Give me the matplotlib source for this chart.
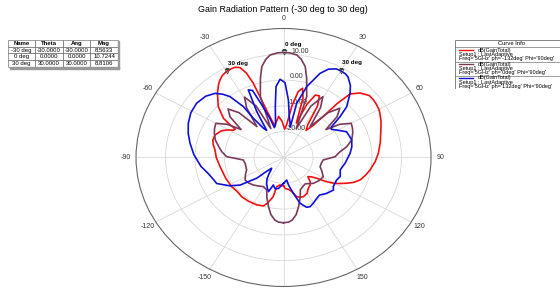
#!/usr/bin/env python3
import numpy as np
import matplotlib
matplotlib.use('Agg')
import matplotlib.pyplot as plt
from matplotlib.ticker import MultipleLocator
from matplotlib.patches import Rectangle

plt.rcParams['font.family'] = ['Liberation Sans', 'DejaVu Sans']

# Gain curves, theta in degrees (0 at top, clockwise), gain in dB
# ph = -132 deg (beam at -30)
red_theta = [-180, -173.6, -168.5, -167, -163, -160, -153.7, -145, -137, -130, -122.8, -112,
             -103, -99.4, -90, -82.9, -78, -74.2, -69.4, -64, -61, -58, -56, -55, -53.3,
             -48.3, -42, -38, -35.6, -33, -30, -27, -25, -22.9, -21, -19.6, -18.7, -17,
             -14, -10, -6, -2, 2, 5, 8, 11, 13.5, 16, 18, 21, 24, 27, 30, 33, 36, 39,
             40.5, 41, 42.5, 46, 50.4, 53.8, 57, 60.2, 62.3, 67, 72, 80, 87, 93, 99.4, 104,
             108.5, 112, 115, 118, 120.6, 123, 125.6, 128.5, 132, 136, 140, 145, 150, 156,
             160, 163.7, 168, 172, 177.6, 180]
red_db = [-19, -19.3, -18.5, -14.4, -11.5, -10, -9.5, -9.3, -9.2, -9.5, -9.1, -8.8,
          -8.5, -8.2, -7.2, -6.6, -5.6, -5.1, -5.2, -6.5, -8, -10, -10.3, -7.9, -4.6,
          -0.4, 3.5, 5.8, 7, 8, 8.56, 8.7, 8.6, 7.8, 5, 0.5, -5.1, -12,
          -17, -16, -14, -16, -19, -17, -10, -4, -2.4, -6, -16, -8, -3.5, -3.2, -7, -15, -17, -14,
          -7.4, -2.3, 3.4, 6, 7.7, 7.8, 7.6, 7.3, 6.9, 5.9, 4.7, 3.3, 2.2, 1.1, -0.3, -1.4,
          -2.6, -4.3, -6.4, -8.5, -10.4, -13, -16.2, -18, -18.9, -17, -16, -15.4, -14, -13.4,
          -13.6, -14.2, -16.5, -17.5, -18, -19]

# ph = 0 deg (broadside)
purple_theta = [-180, -176, -173, -169, -165, -160, -155.6, -149, -142, -136, -130, -124,
                -117, -111, -100, -94, -89, -84, -79, -73.6, -68, -64, -60, -56, -53, -49,
                -45, -41, -37, -33, -29.5, -25, -21, -18.4, -14.3, -11.8, -9, -6.5, -3, 0,
                3, 6.5, 9, 11.8, 14.3, 18.4, 21, 25, 29.5, 33, 37, 41, 45, 49, 53, 56, 60,
                64, 68, 73.6, 79, 84, 89, 94, 100, 106, 112, 119, 127, 135, 144, 150,
                155.6, 160, 165, 169, 173, 176, 180]
purple_db = [-4.7, -4.9, -5.6, -7.5, -10.3, -13.5, -16.2, -16.8, -16, -15.2, -14.6, -14.3,
             -15.5, -16.6, -16.8, -16.3, -10.7, -9, -7.6, -5.9, -4.7, -4, -3.5, -7, -12, -6,
             -3.4, -7, -15, -7, -3.1, -8, -18, -5.1, 1.7, 6, 8.5, 10, 10.6, 10.72,
             10.6, 10, 8.5, 6, 1.7, -5.1, -18, -8, -2.9, -7, -15, -7, -3, -6, -12, -7, -3.5,
             -4, -4.7, -5.9, -8.2, -11, -12.5, -16.5, -17, -17.1, -16, -14.6, -15, -15.8, -17.4, -17,
             -16.2, -13.5, -10.3, -7.5, -5.6, -4.9, -4.7]

# ph = 132 deg (beam at +30)
blue_theta = [-180, -176, -172, -167, -162, -159, -155, -150, -146, -142, -139, -136, -133,
              -131.5, -126, -121, -114, -110, -104, -97, -88, -80, -74, -67.7, -61, -54.5,
              -48, -43, -40, -37.6, -34.6, -33.9, -31, -28.5, -27, -24.5, -22, -20, -17,
              -15, -12, -8, -5.3, -2.2, 1, 4.2, 7, 9.5, 11, 12, 16, 20.8, 24, 27.5, 30, 33,
              35, 39, 42.2, 47.4, 50.4, 53.8, 56, 59.4, 65, 73.6, 80, 86, 96, 104, 111, 116,
              123.8, 126.7, 133.5, 140, 145, 150.4, 154.7, 158, 162.5, 166.5, 171, 173, 177, 180]
blue_db = [-20, -19, -17.9, -17.5, -18.8, -15.8, -17, -18.5, -20, -22, -23.5, -24.2, -22,
           -17.9, -11.8, -8.7, -5.2, -4.8, -3.8, -1.8, 0.4, 2.2, 3.6, 4.9, 5.9, 6.2,
           5.5, 4, 2, -0.2, -6, -11.7, -16.8, -18, -10, -1.2, -2, -8, -14,
           -18, -17, -10, -2.4, 0.35, -1, -7.6, -14, -16.5, -18, -8.5, -1.4, 4.9, 7.5, 8.7, 8.81, 8.6,
           8.1, 6, 3.6, -0.9, -5.1, -9.8, -10.5, -9.1, -6.4, -5.9, -6.5, -7.4, -9, -10.2, -9.4, -10,
           -9.7, -8.9, -9.8, -11, -10.5, -9.6, -8.9, -9.2, -11.4, -15.7, -19.2, -21.2, -20.5, -20]

# Marker table
marker_names = ['-30 deg', '0 deg', '30 deg']
marker_theta = [-30.0, 0.0, 30.0]
marker_mag = [8.5633, 10.7244, 8.8106]

curve_labels = ["Freq='5GHz' ph='-132deg' Phi='90deg'",
                "Freq='5GHz' ph='0deg' Phi='90deg'",
                "Freq='5GHz' ph='132deg' Phi='90deg'"]
curve_colors = ['#f01010', '#7a3a5a', '#1010d8']

fig = plt.figure(figsize=(5.6, 2.91), dpi=100)
fig.text(0.506, 0.966, 'Gain Radiation Pattern (-30 deg to 30 deg)', ha='center', va='center',
         fontsize=6.4)

#######################
# Polar plot, stretched to the same ellipse as the original
ax = fig.add_axes([0.2429, 0.0155, 0.5268, 0.8866], projection='polar')
ax.set_aspect('auto')
ax.set_theta_zero_location('N')
ax.set_theta_direction(-1)
ax.set_ylim(-30, 20)

for th, db, c in zip([red_theta, purple_theta, blue_theta], [red_db, purple_db, blue_db], curve_colors):
    ax.plot(np.deg2rad(th), db, color=c, lw=1.2, solid_joinstyle='round')

angles = list(range(0, 360, 30))
labels = [str(a if a < 180 else a - 360) for a in angles]
ax.set_thetagrids(angles, labels=labels, fontsize=5, color='#333333')
ax.set_rgrids([-20, -10, 0, 10], labels=['-20.00', '-10.00', '0.00', '10.00'], angle=4,
              fontsize=5, color='#333333')
ax.xaxis.set_minor_locator(MultipleLocator(np.deg2rad(5)))
ax.tick_params(axis='x', which='major', direction='in', length=4, width=0.6, color='#555555', pad=0)
ax.tick_params(axis='x', which='minor', direction='in', length=2.5, width=0.5, color='#555555')
ax.grid(True, color='#d8d8d8', lw=0.6)
ax.spines['polar'].set_color('#666666')
ax.spines['polar'].set_linewidth(0.8)

# Markers
for name, th, mag in zip(marker_names, marker_theta, marker_mag):
    ax.plot(np.deg2rad(th), mag, marker='v', ms=3.5, mfc='none', mec='#444444', mew=0.6)
    ax.annotate(name.lstrip('-'), (np.deg2rad(th), mag), xytext=(1, 4), textcoords='offset points',
                fontsize=4.5, fontweight='bold', ha='left', va='bottom')

#######################
# Marker table at top left
tax = fig.add_axes([0.0143, 0.77, 0.196, 0.093])
tax.axis('off')
rows = [[n, '%.4f' % t, '%.4f' % t, '%.4f' % m] for n, t, m in zip(marker_names, marker_theta, marker_mag)]
tbl = tax.table(cellText=rows, colLabels=['Name', 'Theta', 'Ang', 'Mag'], bbox=[0, 0, 1, 1],
                cellLoc='center')
tbl.auto_set_font_size(False)
tbl.set_fontsize(4.3)
for (r, c), cell in tbl.get_celld().items():
    cell.set_linewidth(0.4)
    cell.set_edgecolor('#555555')
    if r == 0:
        cell.set_text_props(fontweight='bold')
# little drop shadow like the original
tax.add_patch(Rectangle((1.0, -0.06), 0.015, 1.0, color='#999999', transform=tax.transAxes, clip_on=False))
tax.add_patch(Rectangle((0.02, -0.06), 0.995, 0.06, color='#999999', transform=tax.transAxes, clip_on=False))

#######################
# Curve info box at top right (runs off the edge like the original)
lax = fig.add_axes([0.8125, 0.695, 0.25, 0.168])
lax.set_xlim(0, 1)
lax.set_ylim(0, 1)
lax.axis('off')
lax.add_patch(Rectangle((0, 0), 1, 1, fill=False, lw=0.5, ec='#555555'))
lax.text(0.4, 0.93, 'Curve Info', fontsize=4.2, ha='center', va='center')
lax.plot([0, 1], [0.86, 0.86], color='#555555', lw=0.4)
for i, (lab, c) in enumerate(zip(curve_labels, curve_colors)):
    y0 = 0.79 - i * 0.285
    lax.plot([0.03, 0.13], [y0, y0], color=c, lw=1)
    lax.text(0.16, y0, 'dB(GainTotal)', fontsize=4, va='center')
    lax.text(0.03, y0 - 0.09, 'Setup1 : LastAdaptive', fontsize=4, va='center')
    lax.text(0.03, y0 - 0.18, lab, fontsize=4, va='center')
    if i < 2:
        lax.plot([0, 1], [y0 - 0.235, y0 - 0.235], color='#555555', lw=0.4)

fig.savefig('out.png', dpi=100)
